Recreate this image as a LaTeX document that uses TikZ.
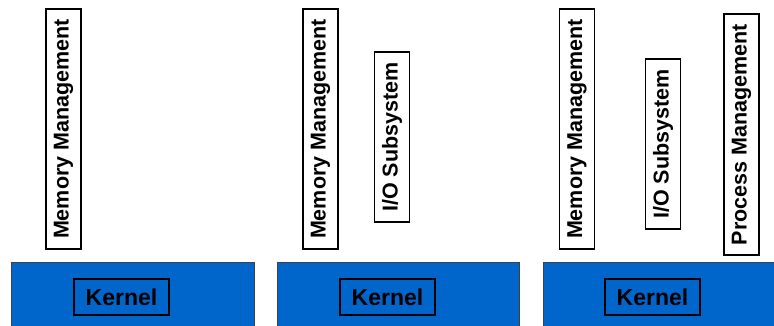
\documentclass[tikz,border=0pt]{standalone}
\usepackage{fontspec}
\setmainfont{Liberation Sans}
\definecolor{kernelblue}{RGB}{0,102,204}

\begin{document}
\begin{tikzpicture}[x=1pt, y=1pt, panel/.style={rectangle, draw=black!75, line width=0.8pt, fill=kernelblue, minimum height=73pt, inner sep=0pt}, kbox/.style={rectangle, draw, line width=1.6pt, fill=kernelblue, minimum width=95pt, minimum height=36pt, inner sep=0pt, font=\fontsize{23}{26}\selectfont\bfseries}, sub/.style={rectangle, draw, line width=1.6pt, fill=white, rotate=90, minimum height=35pt, inner sep=0pt, font=\fontsize{21.5}{24}\selectfont\bfseries}]

  \useasboundingbox (0,0) rectangle (774,325);

  % three kernels, running off the bottom
  \node[panel, minimum width=243pt] (panelA) at (132.5,26.5) {};
  \node[panel, minimum width=242pt] (panelB) at (398,26.5) {};
  \node[panel, minimum width=243pt] (panelC) at (664.5,26.5) {};

  \node[kbox] (kernelA) at (121.5,28) {Kernel};
  \node[kbox] (kernelB) at (387.5,28) {Kernel};
  \node[kbox] (kernelC) at (652.5,28) {Kernel};

  % modules on top
  \node[sub, minimum width=240pt] (memA) at (63.5,196) {Memory Management};

  \node[sub, minimum width=240pt] (memB) at (320.5,196) {Memory Management};
  \node[sub, minimum width=170pt] (ioB) at (392,188) {I/O Subsystem};

  \node[sub, minimum width=240pt] (memC) at (577,196) {Memory Management};
  \node[sub, minimum width=170pt] (ioC) at (663,181) {I/O Subsystem};
  \node[sub, minimum width=241pt] (procC) at (741.5,190.5) {Process Management};
\end{tikzpicture}
\end{document}
